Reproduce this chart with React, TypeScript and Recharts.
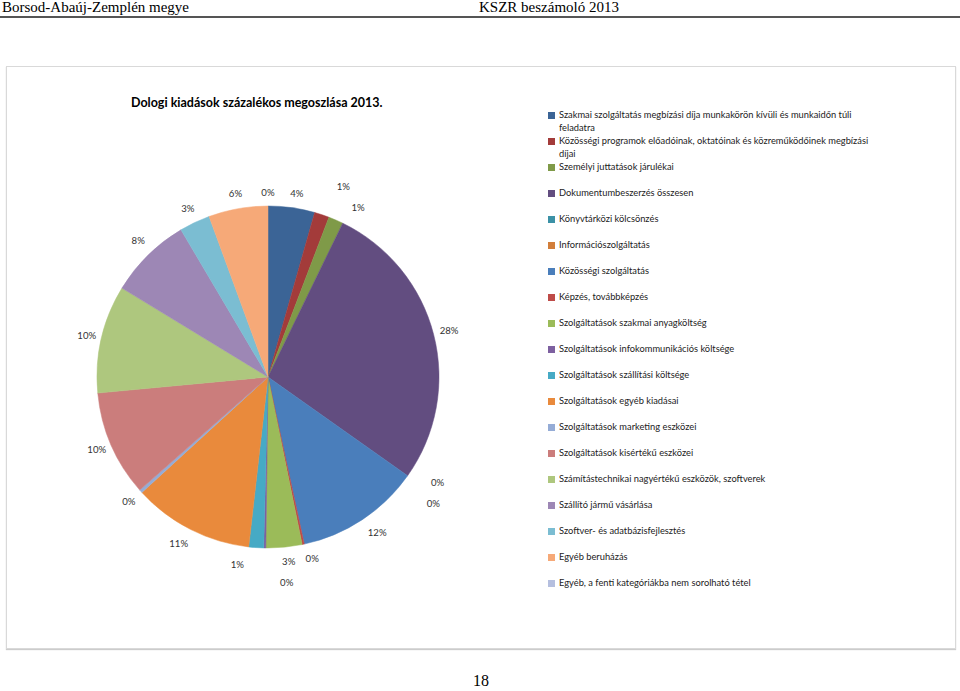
import React from 'react';
import { PieChart, Pie, Cell, Legend } from 'recharts';

const categories = [
  'Szakmai szolgáltatás megbízási díja munkakörön kívüli és munkaidőn túli feladatra',
  'Közösségi programok előadóinak, oktatóinak és közreműködőinek megbízási díjai',
  'Személyi juttatások járulékai',
  'Dokumentumbeszerzés összesen',
  'Könyvtárközi kölcsönzés',
  'Információszolgáltatás',
  'Közösségi szolgáltatás',
  'Képzés, továbbképzés',
  'Szolgáltatások szakmai anyagköltség',
  'Szolgáltatások infokommunikációs költsége',
  'Szolgáltatások szállítási költsége',
  'Szolgáltatások egyéb kiadásai',
  'Szolgáltatások marketing eszközei',
  'Szolgáltatások kisértékű eszközei',
  'Számítástechnikai nagyértékű eszközök, szoftverek',
  'Szállító jármű vásárlása',
  'Szoftver- és adatbázisfejlesztés',
  'Egyéb beruházás',
  'Egyéb, a fenti kategóriákba nem sorolható tétel',
];

const values = [4.4, 1.4, 1.4, 27.6, 0, 0, 11.8, 0.2, 3.4, 0.2, 1.4, 11.4, 0.3, 10.0, 10.2, 7.8, 2.9, 5.6, 0];

const colors = [
  '#3B6496', '#A33B3A', '#7F9A48', '#624D80', '#3B91A6', '#D27E3A',
  '#4A7EBB', '#BE4B48', '#9BBB59', '#7D60A0', '#46AAC5', '#E98A3C',
  '#95ACD6', '#CB7D7C', '#AEC77E', '#9D87B5', '#7BBDD2', '#F6A978', '#B5BFDF',
];

// label nudges: [extra radius, angle shift in degrees clockwise]
const labelNudges: [number, number][] = [
  [0, 1], [19, 3.2], [6, 4.6], [1, 0], [14, -3.3], [22, 2.1], [4, -1.6], [1, -1.8], [0, -1],
  [20, -6.3], [4, 5.3], [3, 1.2], [1, 0], [0, 0.4], [0, 0], [2, 1], [1, 0], [0, 0], [-1, 0],
];

const data = categories.map((name, i) => ({ name, value: values[i] }));

const labelFont = 'Lato, "Open Sans", sans-serif';
const RAD = Math.PI / 180;

const renderLabel = (props: any) => {
  const { cx, cy, midAngle, outerRadius, percent, index } = props;
  const [dr, da] = labelNudges[index] || [0, 0];
  const r = outerRadius + 15 + dr;
  const ang = midAngle - da;
  const x = cx + r * Math.cos(-ang * RAD);
  const y = cy + r * Math.sin(-ang * RAD);
  return (
    <text
      key={`lbl-${index}`}
      x={x}
      y={y}
      textAnchor="middle"
      dominantBaseline="central"
      fontFamily={labelFont}
      fontSize={9.6}
      fill="#333"
    >
      {`${Math.round(percent * 100)}%`}
    </text>
  );
};

const renderLegend = () => (
  <div style={{ fontFamily: labelFont, fontSize: 9.3, color: '#222' }}>
    {categories.map((name, i) => (
      <div key={i} style={{ display: 'flex', alignItems: 'flex-start', height: 26 }}>
        <span
          style={{
            display: 'inline-block',
            width: 7,
            height: 7,
            background: colors[i],
            marginTop: 3,
            marginRight: 4,
            flex: '0 0 auto',
          }}
        />
        <span style={{ lineHeight: '12.5px', width: 325 }}>{name}</span>
      </div>
    ))}
  </div>
);

export default function App() {
  return (
    <div style={{ position: 'absolute', left: 0, top: 0, width: 960, height: 691, background: '#fff', overflow: 'hidden' }}>
      <div style={{ position: 'absolute', left: 2, top: -1, fontFamily: '"Liberation Serif", serif', fontSize: 15, color: '#000', whiteSpace: 'nowrap' }}>
        Borsod-Abaúj-Zemplén megye
      </div>
      <div style={{ position: 'absolute', left: 479, top: -1, fontFamily: '"Liberation Serif", serif', fontSize: 15, color: '#000', whiteSpace: 'nowrap' }}>
        KSZR beszámoló 2013
      </div>
      <div style={{ position: 'absolute', left: 0, top: 16, width: 960, height: 2, background: '#555' }} />
      <div
        style={{
          position: 'absolute',
          left: 6,
          top: 66,
          width: 948,
          height: 581,
          border: '1px solid #D9D9D9',
          boxShadow: '0 1px 1px #ccc',
          background: '#fff',
        }}
      />
      <div
        style={{
          position: 'absolute',
          left: 131,
          top: 95,
          fontFamily: labelFont,
          fontWeight: 'bold',
          fontSize: 12.5,
          color: '#000',
          whiteSpace: 'nowrap',
        }}
      >
        Dologi kiadások százalékos megoszlása 2013.
      </div>
      <PieChart
        width={960}
        height={691}
        margin={{ top: 0, right: 0, bottom: 0, left: 0 }}
        style={{ position: 'absolute', left: 0, top: 0 }}
      >
        <Pie
          data={data}
          dataKey="value"
          nameKey="name"
          cx={268}
          cy={377}
          outerRadius={171}
          startAngle={90}
          endAngle={-270}
          isAnimationActive={false}
          label={renderLabel}
          labelLine={false}
        >
          {data.map((d, i) => (
            <Cell
              key={i}
              fill={colors[i]}
              stroke={d.value > 0 ? colors[i] : 'none'}
              strokeWidth={d.value > 0 ? 0.5 : 0}
            />
          ))}
        </Pie>
        <Legend
          layout="vertical"
          align="right"
          verticalAlign="top"
          content={renderLegend}
          wrapperStyle={{ left: 548, top: 109, width: 340, right: 'auto' }}
        />
      </PieChart>
      <div style={{ position: 'absolute', left: 473, top: 672, fontFamily: '"Liberation Serif", serif', fontSize: 16, color: '#000' }}>
        18
      </div>
    </div>
  );
}
